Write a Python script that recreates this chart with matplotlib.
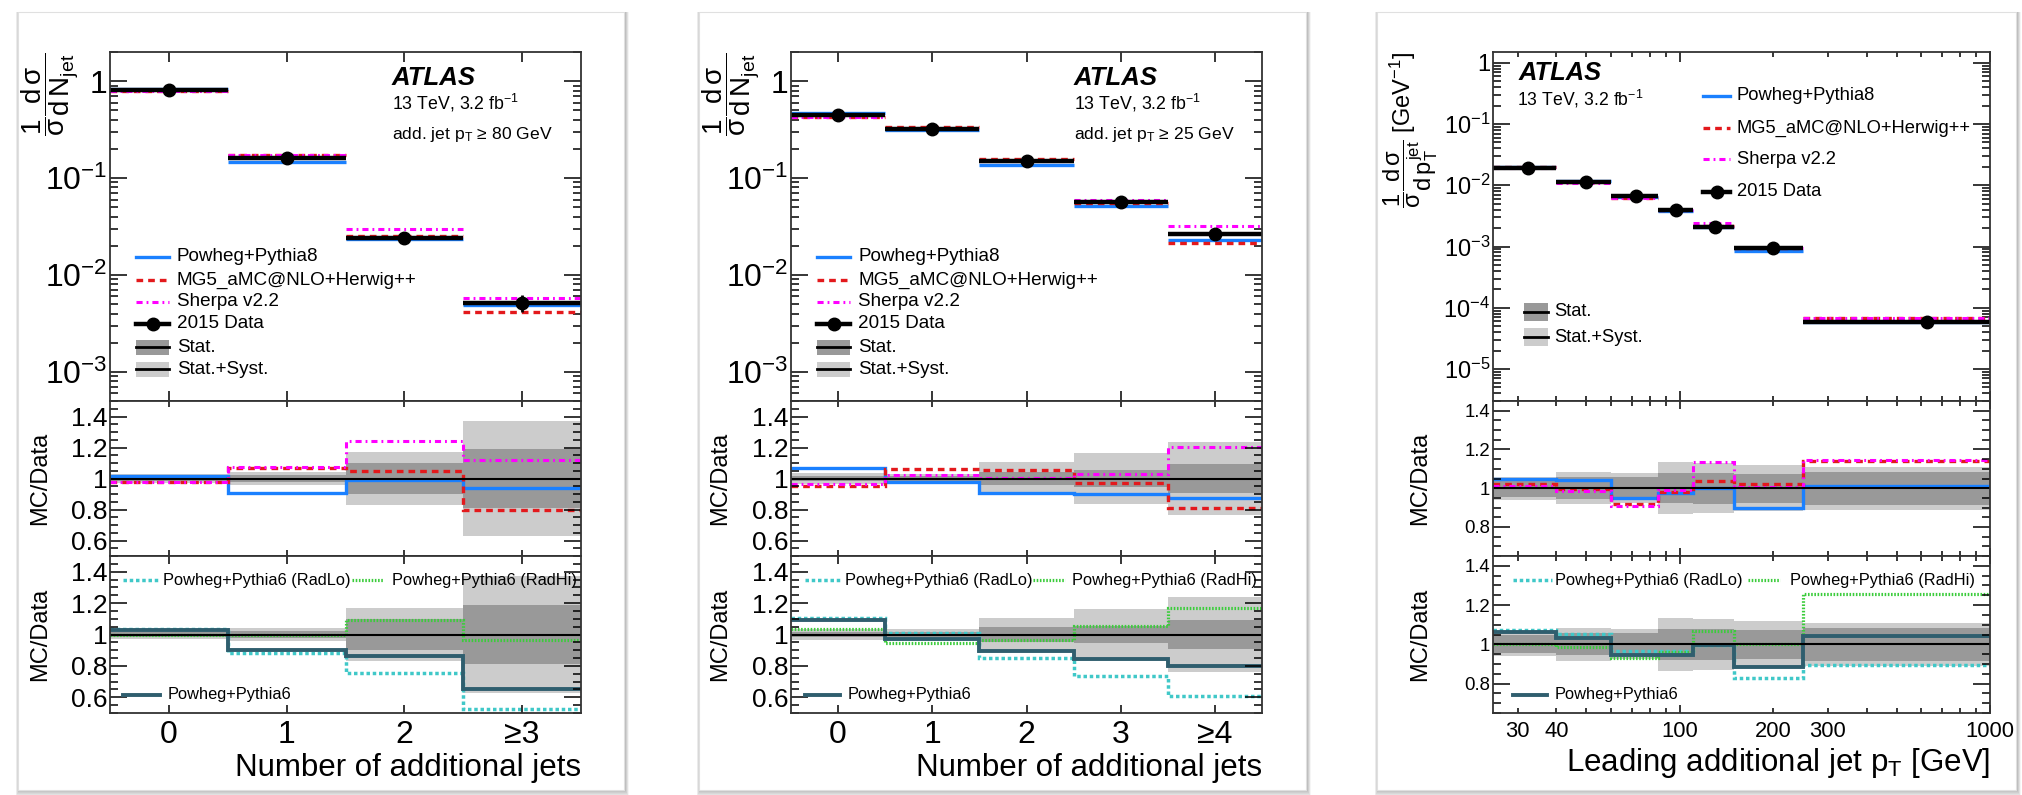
import numpy as np
import matplotlib.pyplot as plt
from matplotlib.lines import Line2D
from matplotlib.patches import Rectangle
from matplotlib.ticker import (FixedLocator, FuncFormatter, MultipleLocator,
                               LogLocator, NullFormatter, NullLocator)

plt.rcParams['font.family'] = ['Liberation Sans', 'DejaVu Sans']
plt.rcParams['mathtext.fontset'] = 'custom'
plt.rcParams['mathtext.rm'] = 'Liberation Sans'
plt.rcParams['mathtext.it'] = 'Liberation Sans'
plt.rcParams['mathtext.bf'] = 'Liberation Sans:bold'
plt.rcParams['mathtext.sf'] = 'Liberation Sans'

# ---- data: N jets, add. jet pT >= 80 GeV ----
nj80_labels = ['0', '1', '2', '≥3']
nj80_data = [0.81, 0.162, 0.0239, 0.00517]
nj80_stat = [0.015, 0.025, 0.10, 0.19]
nj80_tot = [0.03, 0.043, 0.168, 0.37]
nj80_pp8 = [1.015, 0.905, 0.988, 0.938]
nj80_mg5 = [0.98, 1.067, 1.05, 0.80]
nj80_sherpa = [0.98, 1.073, 1.24, 1.12]
nj80_pp6 = [1.028, 0.904, 0.866, 0.65]
nj80_radlo = [1.038, 0.879, 0.753, 0.525]
nj80_radhi = [1.0, 1.0, 1.09, 0.966]

# ---- data: N jets, add. jet pT >= 25 GeV ----
nj25_labels = ['0', '1', '2', '3', '≥4']
nj25_data = [0.445, 0.321, 0.149, 0.0569, 0.0265]
nj25_stat = [0.014, 0.015, 0.045, 0.055, 0.094]
nj25_tot = [0.038, 0.032, 0.105, 0.162, 0.236]
nj25_pp8 = [1.065, 0.978, 0.905, 0.903, 0.871]
nj25_mg5 = [0.953, 1.06, 1.054, 0.972, 0.811]
nj25_sherpa = [0.963, 1.022, 1.006, 1.032, 1.204]
nj25_pp6 = [1.093, 0.97, 0.894, 0.847, 0.798]
nj25_radlo = [1.102, 1.008, 0.853, 0.736, 0.61]
nj25_radhi = [1.038, 0.943, 0.964, 1.053, 1.17]

# ---- data: leading additional jet pT ----
pt_edges = [25, 40, 60, 85, 110, 150, 250, 1000]
pt_data = [0.0191, 0.01125, 0.0068, 0.00396, 0.00211, 0.00093, 5.9e-5]
pt_stat = [0.045, 0.057, 0.059, 0.078, 0.08, 0.075, 0.085]
pt_tot = [0.06, 0.083, 0.077, 0.134, 0.13, 0.12, 0.11]
pt_pp8 = [1.049, 1.043, 0.951, 0.974, 1.003, 0.896, 1.009]
pt_mg5 = [1.021, 0.995, 0.917, 0.979, 1.035, 1.021, 1.139]
pt_sherpa = [1.012, 0.986, 0.91, 0.991, 1.136, 1.005, 1.148]
pt_pp6 = [1.061, 1.033, 0.943, 0.943, 0.998, 0.886, 1.042]
pt_radlo = [1.073, 1.055, 0.964, 0.964, 0.995, 0.83, 0.896]
pt_radhi = [1.0, 0.986, 0.929, 0.96, 1.068, 1.0, 1.258]
pt_ticklabels = [30, 40, 200, 300]

NAMES = {'pp8': 'Powheg+Pythia8', 'mg5': 'MG5_aMC@NLO+Herwig++', 'sherpa': 'Sherpa v2.2',
         'pp6': 'Powheg+Pythia6', 'radlo': 'Powheg+Pythia6 (RadLo)', 'radhi': 'Powheg+Pythia6 (RadHi)'}
STYLE = {
    'pp8': dict(color='#1a80ff', lw=2.4, ls='-'),
    'mg5': dict(color='#e3191c', lw=2.4, ls=(0, (2.0, 1.5))),
    'sherpa': dict(color='#ff00ff', lw=2.2, ls=(0, (2.0, 1.3, 0.6, 1.3))),
    'pp6': dict(color='#2f5e6e', lw=2.8, ls='-'),
    'radlo': dict(color='#40c8c8', lw=2.5, ls=(0, (1.0, 0.8))),
    'radhi': dict(color='#3ccc3c', lw=2.3, ls=(0, (0.5, 0.5))),
}
BAND_STAT = '#999999'
BAND_TOT = '#cccccc'

W, H = 2022, 795
fig = plt.figure(figsize=(W / 100, H / 100), dpi=100)
fig.patch.set_facecolor('white')


def fx(x):
    return x / W


def fy(y):
    return 1 - y / H


def box(x0, y0, x1, y1):
    return [x0 / W, 1 - y1 / H, (x1 - x0) / W, (y1 - y0) / H]


def card(x0, y0, x1, y1):
    for i in range(7, 0, -1):
        fig.patches.append(Rectangle((fx(x0 - i * 0.5 + 1), fy(y1 + i)), (x1 - x0 + i) / W, (y1 - y0 + i) / H,
                                     transform=fig.transFigure, facecolor='k', alpha=0.04,
                                     edgecolor='none', zorder=-5))
    fig.patches.append(Rectangle((fx(x0), fy(y1)), (x1 - x0) / W, (y1 - y0) / H,
                                 transform=fig.transFigure, facecolor='white',
                                 edgecolor='#e0e0e0', lw=0.8, zorder=-4))


def frame(ax, ymaj, ymin, xmaj, xmin, fs_y, fs_x=None):
    ax.tick_params(which='both', direction='in', top=True, right=True, pad=2)
    ax.tick_params(axis='y', which='major', length=ymaj, width=1.1, labelsize=fs_y)
    ax.tick_params(axis='y', which='minor', length=ymin, width=1.1)
    ax.tick_params(axis='x', which='major', length=xmaj, width=1.1)
    ax.tick_params(axis='x', which='minor', length=xmin, width=1.1)
    if fs_x:
        ax.tick_params(axis='x', which='both', labelsize=fs_x, pad=5)
    else:
        ax.tick_params(axis='x', which='both', labelbottom=False)
    for s in ax.spines.values():
        s.set_linewidth(1.3)
        s.set_color('#333333')


def log_fmt(v, pos):
    e = int(round(np.log10(v)))
    return '1' if e == 0 else r'$10^{%d}$' % e


def main_axes(rect, edges, data, stat, mcs, ylim):
    ax = fig.add_axes(rect)
    edges = np.asarray(edges, float)
    data = np.asarray(data)
    centers = (edges[:-1] + edges[1:]) / 2
    for key, r in mcs:
        st = STYLE[key]
        ax.hlines(data * np.asarray(r), edges[:-1], edges[1:], colors=st['color'],
                  linewidths=st['lw'], linestyles=[st['ls']])
    ax.hlines(data, edges[:-1], edges[1:], colors='k', linewidths=3.2)
    ax.errorbar(centers, data, yerr=data * np.asarray(stat), fmt='o', color='k',
                ms=9, elinewidth=2, capsize=0)
    ax.set_yscale('log')
    ax.set_ylim(*ylim)
    ax.set_xlim(edges[0], edges[-1])
    ax.yaxis.set_major_locator(LogLocator(base=10))
    ax.yaxis.set_minor_locator(LogLocator(base=10, subs=np.arange(2, 10)))
    ax.yaxis.set_major_formatter(FuncFormatter(log_fmt))
    ax.yaxis.set_minor_formatter(NullFormatter())
    return ax


def ratio_axes(rect, edges, stat, tot, ratios, ylim, yticks):
    ax = fig.add_axes(rect)
    stat = np.asarray(stat)
    tot = np.asarray(tot)
    ax.stairs(1 + tot, edges, baseline=1 - tot, fill=True, color=BAND_TOT, lw=0)
    ax.stairs(1 + stat, edges, baseline=1 - stat, fill=True, color=BAND_STAT, lw=0)
    ax.axhline(1, color='k', lw=1.5)
    for key, r in ratios:
        st = STYLE[key]
        ax.stairs(r, edges, baseline=None, fill=False, edgecolor=st['color'],
                  lw=st['lw'], ls=st['ls'])
    ax.set_ylim(*ylim)
    ax.set_xlim(edges[0], edges[-1])
    ax.yaxis.set_major_locator(FixedLocator(yticks))
    ax.yaxis.set_major_formatter(FuncFormatter(lambda v, p: '%g' % v))
    ax.yaxis.set_minor_locator(MultipleLocator(0.05))
    return ax


def leg_line(x0, x1, y, key):
    st = STYLE[key]
    fig.add_artist(Line2D([fx(x0), fx(x1)], [fy(y), fy(y)], transform=fig.transFigure,
                          color=st['color'], lw=st['lw'], ls=st['ls']))


def leg_band(x0, x1, y, h, color):
    fig.patches.append(Rectangle((fx(x0), fy(y + h / 2)), (x1 - x0) / W, h / H,
                                 transform=fig.transFigure, facecolor=color, edgecolor='none', zorder=3))
    fig.add_artist(Line2D([fx(x0), fx(x1)], [fy(y), fy(y)], transform=fig.transFigure,
                          color='k', lw=2, zorder=4))


def leg_data(x0, x1, y):
    fig.add_artist(Line2D([fx(x0), fx(x1)], [fy(y), fy(y)], transform=fig.transFigure, color='k', lw=3.2))
    fig.add_artist(Line2D([fx((x0 + x1) / 2)], [fy(y)], transform=fig.transFigure, color='k',
                          marker='o', ms=9, ls='none'))


def text(x, y, s, fs, **kw):
    fig.text(fx(x), fy(y), s, fontsize=fs, va='center', **kw)


# ---------------- cards ----------------
card(18, 12, 624, 790)
card(699, 12, 1306, 790)
card(1377, 12, 2016, 790)

Y_MAIN, Y_R1, Y_R2, Y_BOT = 52, 401, 556, 713
LEG_FS = 13.6
RLEG_FS = 11.8

# ---------------- panels 1 and 2: jet multiplicity ----------------
njet_sets = [
    dict(x0=110, x1=581, lab=nj80_labels, data=nj80_data, stat=nj80_stat, tot=nj80_tot,
         pp8=nj80_pp8, mg5=nj80_mg5, sherpa=nj80_sherpa, pp6=nj80_pp6, radlo=nj80_radlo,
         radhi=nj80_radhi, cut='80', ylx=50, mcx=40, atx=392, leg=(136, 169, 177),
         r2leg=(123, 160, 163, 352, 383, 392, 168)),
    dict(x0=791, x1=1262, lab=nj25_labels, data=nj25_data, stat=nj25_stat, tot=nj25_tot,
         pp8=nj25_pp8, mg5=nj25_mg5, sherpa=nj25_sherpa, pp6=nj25_pp6, radlo=nj25_radlo,
         radhi=nj25_radhi, cut='25', ylx=731, mcx=720, atx=1074, leg=(817, 850, 858),
         r2leg=(805, 840, 845, 1033, 1065, 1072, 848)),
]

for p in njet_sets:
    n = len(p['lab'])
    edges = np.arange(n + 1) - 0.5
    x0, x1 = p['x0'], p['x1']
    ax = main_axes(box(x0, Y_MAIN, x1, Y_R1), edges, p['data'], p['stat'],
                   [('pp8', p['pp8']), ('mg5', p['mg5']), ('sherpa', p['sherpa'])], (5e-4, 2.0))
    ax.set_xticks(np.arange(n))
    ax.xaxis.set_minor_locator(NullLocator())
    frame(ax, 12, 6, 7, 0, 23)

    r1 = ratio_axes(box(x0, Y_R1, x1, Y_R2), edges, p['stat'], p['tot'],
                    [('pp8', p['pp8']), ('mg5', p['mg5']), ('sherpa', p['sherpa'])],
                    (0.5, 1.5), [0.6, 0.8, 1.0, 1.2, 1.4])
    r1.set_xticks(np.arange(n))
    r1.xaxis.set_minor_locator(NullLocator())
    frame(r1, 12, 6, 4, 0, 19)

    r2 = ratio_axes(box(x0, Y_R2, x1, Y_BOT), edges, p['stat'], p['tot'],
                    [('radlo', p['radlo']), ('radhi', p['radhi']), ('pp6', p['pp6'])],
                    (0.5, 1.5), [0.6, 0.8, 1.0, 1.2, 1.4])
    r2.set_xticks(np.arange(n))
    r2.set_xticklabels(p['lab'])
    r2.xaxis.set_minor_locator(NullLocator())
    frame(r2, 12, 6, 6, 0, 19, fs_x=23)

    # axis titles
    fig.text(fx(p['ylx']), fy(53), r'$\dfrac{1}{σ}\dfrac{d\,σ}{d\,N_{jet}}$', rotation=90,
             ha='center', va='top', fontsize=20)
    for ya, yb in [(Y_R1, Y_R2), (Y_R2, Y_BOT)]:
        fig.text(fx(p['mcx']), fy((ya + yb) / 2), 'MC/Data', rotation=90, ha='center',
                 va='center', fontsize=17)
    text(x1, 768, 'Number of additional jets', 22.5, ha='right')

    # labels
    text(p['atx'], 78, 'ATLAS', 18.5, fontweight='bold', style='italic')
    text(p['atx'], 103, r'13 TeV, 3.2 fb$^{-1}$', 12.8)
    text(p['atx'], 134, r'add. jet p$_{T}$ ≥ %s GeV' % p['cut'], 12.6)

    # legend
    lx0, lx1, lt = p['leg']
    rows = [257, 280, 302, 324, 347, 369]
    for key, y in zip(['pp8', 'mg5', 'sherpa'], rows):
        leg_line(lx0, lx1, y, key)
        text(lt, y, NAMES[key], LEG_FS)
    leg_data(lx0, lx1, rows[3])
    text(lt, rows[3], '2015 Data', LEG_FS)
    leg_band(lx0, lx1, rows[4], 15, BAND_STAT)
    text(lt, rows[4], 'Stat.', LEG_FS)
    leg_band(lx0, lx1, rows[5], 15, BAND_TOT)
    text(lt, rows[5], 'Stat.+Syst.', LEG_FS)

    a0, a1, at, b0, b1, bt, ct = p['r2leg']
    leg_line(a0, a1, 580, 'radlo')
    text(at, 580, NAMES['radlo'], RLEG_FS)
    leg_line(b0, b1, 580, 'radhi')
    text(bt, 580, NAMES['radhi'], RLEG_FS)
    leg_line(a0, a1, 695, 'pp6')
    text(ct, 695, NAMES['pp6'], RLEG_FS)

# ---------------- panel 3: leading additional jet pT ----------------
px0, px1 = 1493, 1990
ax = main_axes(box(px0, Y_MAIN, px1, Y_R1), pt_edges, pt_data, pt_stat,
               [('pp8', pt_pp8), ('mg5', pt_mg5), ('sherpa', pt_sherpa)], (3e-6, 1.5))
major_pt = [100, 1000]
minor_pt = [30, 40, 50, 60, 70, 80, 90, 200, 300, 400, 500, 600, 700, 800, 900]


def setup_ptx(a):
    a.set_xscale('log')
    a.set_xlim(pt_edges[0], pt_edges[-1])
    a.xaxis.set_major_locator(FixedLocator(major_pt))
    a.xaxis.set_minor_locator(FixedLocator(minor_pt))
    a.xaxis.set_major_formatter(FuncFormatter(lambda v, p: '%d' % v))
    a.xaxis.set_minor_formatter(FuncFormatter(lambda v, p: '%d' % v if int(round(v)) in pt_ticklabels else ''))


setup_ptx(ax)
frame(ax, 12, 6, 7, 3.5, 17)

r1 = ratio_axes(box(px0, Y_R1, px1, Y_R2), pt_edges, pt_stat, pt_tot,
                [('pp8', pt_pp8), ('mg5', pt_mg5), ('sherpa', pt_sherpa)],
                (0.65, 1.45), [0.8, 1.0, 1.2, 1.4])
setup_ptx(r1)
frame(r1, 12, 6, 6, 3.5, 13.4)

r2 = ratio_axes(box(px0, Y_R2, px1, Y_BOT), pt_edges, pt_stat, pt_tot,
                [('radlo', pt_radlo), ('radhi', pt_radhi), ('pp6', pt_pp6)],
                (0.65, 1.45), [0.8, 1.0, 1.2, 1.4])
setup_ptx(r2)
frame(r2, 12, 6, 6, 3.5, 13.4, fs_x=15.8)
r2.tick_params(axis='x', which='both', pad=6)

fig.text(fx(1411), fy(52), r'$\dfrac{1}{σ}\dfrac{d\,σ}{d\,p_{T}^{jet}}$ [GeV$^{-1}$]', rotation=90,
         ha='center', va='top', fontsize=17)
for ya, yb in [(Y_R1, Y_R2), (Y_R2, Y_BOT)]:
    fig.text(fx(1420), fy((ya + yb) / 2), 'MC/Data', rotation=90, ha='center', va='center', fontsize=17)
text(px1, 763, r'Leading additional jet p$_{T}$ [GeV]', 22.5, ha='right')

text(1519, 73, 'ATLAS', 18.4, fontweight='bold', style='italic')
text(1517, 99, r'13 TeV, 3.2 fb$^{-1}$', 12.7)

rows3 = [96, 128, 159, 192]
for key, y in zip(['pp8', 'mg5', 'sherpa'], rows3):
    leg_line(1703, 1730, y, key)
    text(1737, y, NAMES[key], 13.2)
leg_data(1703, 1730, rows3[3])
text(1737, rows3[3], '2015 Data', 13.2)
leg_band(1524, 1548, 312, 18, BAND_STAT)
text(1554, 312, 'Stat.', 13.2)
leg_band(1524, 1548, 337, 18, BAND_TOT)
text(1554, 337, 'Stat.+Syst.', 13.2)

leg_line(1513, 1552, 580, 'radlo')
text(1555, 580, NAMES['radlo'], RLEG_FS)
leg_line(1748, 1780, 580, 'radhi')
text(1790, 580, NAMES['radhi'], RLEG_FS)
leg_line(1513, 1547, 695, 'pp6')
text(1555, 695, NAMES['pp6'], RLEG_FS)

fig.savefig('out.png', dpi=100, facecolor='white')
